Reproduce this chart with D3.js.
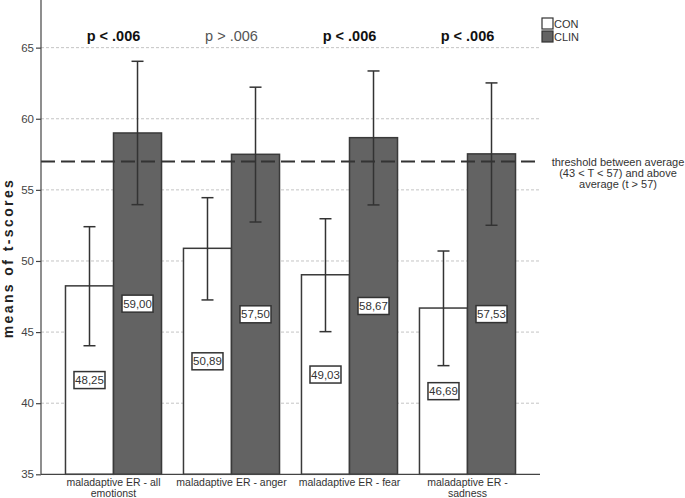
<!DOCTYPE html>
<html>
<head>
<meta charset="utf-8">
<script src="https://cdn.jsdelivr.net/npm/d3@7"></script>
<style>
  body { margin: 0; background: #fff; }
  svg { font-family: "Liberation Sans", Arial, sans-serif; }
</style>
</head>
<body>
<svg id="chart" width="685" height="498"></svg>
<script>
// data
var categories = ["maladaptive ER - all|emotionst", "maladaptive ER - anger", "maladaptive ER - fear", "maladaptive ER -|sadness"];
var groups = ["CON", "CLIN"];
var conMeans = [48.25, 50.89, 49.03, 46.69];
var clinMeans = [59.00, 57.50, 58.67, 57.53];
var conLow = [44.04, 47.26, 45.03, 42.64];
var conHigh = [52.41, 54.45, 52.97, 50.70];
var clinLow = [53.96, 52.74, 53.94, 52.51];
var clinHigh = [64.04, 62.22, 63.36, 62.52];
var pLabels = ["p < .006", "p > .006", "p < .006", "p < .006"];
var pSignificant = [true, false, true, true];
var conLabels = ["48,25", "50,89", "49,03", "46,69"];
var clinLabels = ["59,00", "57,50", "58,67", "57,53"];
var yTicks = [35, 40, 45, 50, 55, 60, 65];
var threshold = 57;
var thresholdText = ["threshold between average", "(43 < T < 57) and above", "average  (t > 57)"];

(function() {
  var plotLeft = 41, plotRight = 540, plotTop = 0, plotBottom = 474.3;
  var colors = { CON: "#ffffff", CLIN: "#636363" };

  var svg = d3.select("#chart");

  var y = d3.scaleLinear().domain([35, 68.35]).range([plotBottom, plotTop]);
  var x0 = d3.scaleBand().domain(categories).range([plotLeft, plotRight])
      .paddingInner(0.186).paddingOuter(0.2075);
  var x1 = d3.scaleBand().domain(groups).range([0, x0.bandwidth()]);

  var flat = [];
  categories.forEach(function(c, i) {
    flat.push({ cat: c, g: "CON", v: conMeans[i], lo: conLow[i], hi: conHigh[i], lab: conLabels[i] });
    flat.push({ cat: c, g: "CLIN", v: clinMeans[i], lo: clinLow[i], hi: clinHigh[i], lab: clinLabels[i] });
  });

  // gridlines
  svg.append("g").selectAll("line")
      .data(yTicks.filter(function(d) { return d > 35; }))
    .enter().append("line")
      .attr("x1", plotLeft).attr("x2", plotRight)
      .attr("y1", function(d) { return y(d); })
      .attr("y2", function(d) { return y(d); })
      .attr("stroke", "#c4c4c4")
      .attr("stroke-width", 1)
      .attr("stroke-dasharray", "3,2");

  // bars
  svg.append("g").selectAll("rect")
      .data(flat)
    .enter().append("rect")
      .attr("x", function(d) { return x0(d.cat) + x1(d.g); })
      .attr("y", function(d) { return y(d.v); })
      .attr("width", x1.bandwidth())
      .attr("height", function(d) { return y(35) - y(d.v); })
      .attr("fill", function(d) { return colors[d.g]; })
      .attr("stroke", "#3a3a3a")
      .attr("stroke-width", 1.5);

  // threshold line
  svg.append("line")
      .attr("x1", plotLeft).attr("x2", plotRight)
      .attr("y1", y(threshold)).attr("y2", y(threshold))
      .attr("stroke", "#333")
      .attr("stroke-width", 2)
      .attr("stroke-dasharray", "14,6");

  // error bars
  var err = svg.append("g").attr("stroke", "#333").attr("stroke-width", 1.5);
  flat.forEach(function(d) {
    var cx = x0(d.cat) + x1(d.g) + x1.bandwidth() / 2;
    err.append("line").attr("x1", cx).attr("x2", cx).attr("y1", y(d.lo)).attr("y2", y(d.hi));
    err.append("line").attr("x1", cx - 6).attr("x2", cx + 6).attr("y1", y(d.lo)).attr("y2", y(d.lo));
    err.append("line").attr("x1", cx - 6).attr("x2", cx + 6).attr("y1", y(d.hi)).attr("y2", y(d.hi));
  });

  // value label boxes
  var lab = svg.append("g").selectAll("g")
      .data(flat)
    .enter().append("g")
      .attr("transform", function(d) {
        var cx = x0(d.cat) + x1(d.g) + x1.bandwidth() / 2;
        var cy = (y(d.v) + y(35)) / 2;
        return "translate(" + cx + "," + cy + ")";
      });
  lab.append("rect")
      .attr("x", -15.5).attr("y", -8.5)
      .attr("width", 31).attr("height", 17)
      .attr("fill", "#fff")
      .attr("stroke", "#333")
      .attr("stroke-width", 1.5);
  lab.append("text")
      .attr("text-anchor", "middle")
      .attr("dy", "0.36em")
      .attr("font-size", 11.5)
      .attr("fill", "#333")
      .text(function(d) { return d.lab; });

  // axes
  svg.append("line").attr("x1", plotLeft).attr("x2", plotLeft).attr("y1", 0).attr("y2", plotBottom)
      .attr("stroke", "#444").attr("stroke-width", 1.2);
  svg.append("line").attr("x1", plotLeft).attr("x2", plotRight).attr("y1", plotBottom).attr("y2", plotBottom)
      .attr("stroke", "#444").attr("stroke-width", 1.2);

  var yAxis = svg.append("g")
      .attr("transform", "translate(" + plotLeft + ",0)")
      .call(d3.axisLeft(y).tickValues(yTicks).tickSize(5).tickPadding(2));
  yAxis.select(".domain").remove();
  yAxis.selectAll("line").attr("stroke", "#444").attr("stroke-width", 1.2);
  yAxis.selectAll("text").attr("font-size", 11.5).attr("fill", "#444")
      .attr("font-family", "Liberation Sans, Arial, sans-serif");

  // category labels
  svg.append("g").selectAll("text")
      .data(categories)
    .enter().append("text")
      .attr("x", function(d) { return x0(d) + x0.bandwidth() / 2; })
      .attr("y", 486)
      .attr("text-anchor", "middle")
      .attr("font-size", 10.5)
      .attr("fill", "#333")
      .each(function(d) {
        var t = d3.select(this);
        d.split("|").forEach(function(p, i) {
          t.append("tspan")
            .attr("x", x0(d) + x0.bandwidth() / 2)
            .attr("dy", i === 0 ? 0 : 11)
            .text(p);
        });
      });

  // p-value labels
  svg.append("g").selectAll("text")
      .data(pLabels)
    .enter().append("text")
      .attr("x", function(d, i) { return x0(categories[i]) + x0.bandwidth() / 2; })
      .attr("y", 41)
      .attr("text-anchor", "middle")
      .attr("font-size", 14.5)
      .attr("font-weight", function(d, i) { return pSignificant[i] ? "bold" : "normal"; })
      .attr("fill", function(d, i) { return pSignificant[i] ? "#111" : "#555"; })
      .text(function(d) { return d; });

  // threshold text
  svg.append("g").selectAll("text")
      .data(thresholdText)
    .enter().append("text")
      .attr("x", 618)
      .attr("y", function(d, i) { return 166 + i * 11; })
      .attr("text-anchor", "middle")
      .attr("font-size", 11)
      .attr("fill", "#333")
      .text(function(d) { return d; });

  // y title
  svg.append("text")
      .attr("transform", "translate(13,258) rotate(-90)")
      .attr("text-anchor", "middle")
      .attr("font-size", 14)
      .attr("font-weight", "bold")
      .attr("letter-spacing", 2.4)
      .attr("fill", "#222")
      .text("means of t-scores");

  // legend
  var leg = svg.append("g").selectAll("g")
      .data(groups)
    .enter().append("g")
      .attr("transform", function(d, i) { return "translate(542," + (18 + i * 13) + ")"; });
  leg.append("rect")
      .attr("width", 11).attr("height", 11)
      .attr("fill", function(d) { return colors[d]; })
      .attr("stroke", "#333").attr("stroke-width", 1.2);
  leg.append("text")
      .attr("x", 12).attr("y", 10)
      .attr("font-size", 11)
      .attr("fill", "#333")
      .text(function(d) { return d; });
})();
</script>
</body>
</html>
